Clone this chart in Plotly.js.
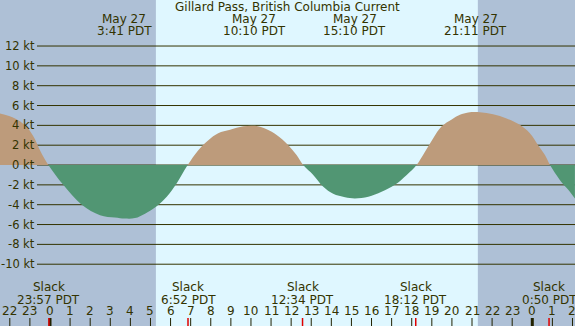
<!DOCTYPE html>
<html>
<head>
<meta charset="utf-8">
<script src="https://cdn.plot.ly/plotly-3.0.1.min.js"></script>
<style>html,body{margin:0;padding:0;background:#aec0d6;}#chart{width:575px;height:326px;}</style>
</head>
<body>
<div id="chart"></div>
<script>
// Hours relative to midnight, May 27 (PDT)
const times = [-2.49,-1.74,-1.24,-0.83,-0.50,-0.08,0.66,1.58,2.49,3.23,3.73,4.23,4.73,5.31,5.81,6.30,6.85,7.38,7.88,8.37,8.96,9.62,10.20,10.78,11.28,11.86,12.27,12.60,13.10,13.60,14.09,14.68,15.17,15.84,16.50,17.16,17.75,18.24,18.66,19.07,19.49,19.99,20.40,20.81,21.39,22.05,22.72,23.38,23.88,24.29,24.63,24.88,25.37,25.79,26.12];
const knots = [5.2,4.7,4.0,2.9,1.5,0,-2.0,-4.0,-5.06,-5.3,-5.4,-5.35,-4.9,-4.15,-3.2,-1.85,0,1.5,2.5,3.2,3.55,3.9,3.95,3.6,3.04,2.0,1.0,0,-1.0,-2.2,-2.9,-3.25,-3.37,-3.2,-2.7,-2.0,-1.0,0,1.35,2.7,3.9,4.6,5.06,5.3,5.33,5.13,4.7,4.05,3.2,2.0,1.0,0,-1.5,-2.5,-3.37];

const extremeTimes = [3.683, 10.167, 15.167, 21.183];
const extremeDates = ["May 27","May 27","May 27","May 27"];
const extremeLabels = ["3:41 PDT","10:10 PDT","15:10 PDT","21:11 PDT"];

const slackTimes = [-0.05, 6.867, 12.567, 18.2, 24.833];
const slackLabels = ["23:57 PDT","6:52 PDT","12:34 PDT","18:12 PDT","0:50 PDT"];

const hourTicks = [-2,-1,0,1,2,3,4,5,6,7,8,9,10,11,12,13,14,15,16,17,18,19,20,21,22,23,24,25,26];
const hourLabels = ["22","23","0","1","2","3","4","5","6","7","8","9","10","11","12","13","14","15","16","17","18","19","20","21","22","23","0","1","2"];

const ktTicks = [12,10,8,6,4,2,0,-2,-4,-6,-8,-10];
const ktLabels = ["12 kt","10 kt","8 kt","6 kt","4 kt","2 kt","0 kt","-2 kt","-4 kt","-6 kt","-8 kt","-10 kt"];

const daylight = [5.27, 21.29]; // sunrise, sunset
const titleText = "Gillard Pass, British Columbia Current";

const W = 575, H = 326;
const py = p => 1 - p / H;
const px = p => p / W;
const txt = '#333300';
const font = {family: 'DejaVu Sans', size: 12, color: txt};
const ktFont = {family: 'DejaVu Sans', size: 11.5, color: txt};

const yTop = 16.64, yBot = -16.23;
const zeroFrac = -yBot / (yTop - yBot);

const traces = [
  {x: times, y: knots, xaxis: 'x', yaxis: 'y2', type: 'scatter', mode: 'lines', fill: 'tozeroy', fillcolor: '#bd9b7b',
   line: {width: 0, shape: 'spline', smoothing: 1, color: 'rgba(0,0,0,0)'}, hoverinfo: 'skip'},
  {x: times, y: knots, xaxis: 'x', yaxis: 'y3', type: 'scatter', mode: 'lines', fill: 'tozeroy', fillcolor: '#519673',
   line: {width: 0, shape: 'spline', smoothing: 1, color: 'rgba(0,0,0,0)'}, hoverinfo: 'skip'}
];

const shapes = [];
shapes.push({type: 'rect', layer: 'below', xref: 'x', yref: 'paper', x0: daylight[0], x1: daylight[1], y0: 0, y1: 1,
  fillcolor: '#dff7ff', line: {width: 0}});
ktTicks.forEach(k => shapes.push({type: 'line', layer: 'below', xref: 'paper', yref: 'y', x0: px(37), x1: 1, y0: k, y1: k,
  line: {color: '#333300', width: 1}}));
hourTicks.forEach(h => shapes.push({type: 'line', layer: 'above', xref: 'x', yref: 'paper', x0: h, x1: h, y0: 0, y1: 8 / H,
  line: {color: '#222200', width: (((h % 24) + 24) % 24 === 0) ? 3 : 1}}));
slackTimes.forEach(t => shapes.push({type: 'line', layer: 'above', xref: 'x', yref: 'paper', x0: t, x1: t, y0: 0, y1: 8 / H,
  line: {color: '#e00000', width: 1.5}}));

const ann = [];
ann.push({text: titleText, xref: 'paper', yref: 'paper', x: px(287), y: py(7), showarrow: false, font: font, xanchor: 'center', yanchor: 'middle'});
extremeTimes.forEach((t, i) => {
  ann.push({text: extremeDates[i], xref: 'x', yref: 'paper', x: t, y: py(19), showarrow: false, font: font, xanchor: 'center', yanchor: 'middle'});
  ann.push({text: extremeLabels[i], xref: 'x', yref: 'paper', x: t, y: py(31), showarrow: false, font: font, xanchor: 'center', yanchor: 'middle'});
});
slackTimes.forEach((t, i) => {
  ann.push({text: 'Slack', xref: 'x', yref: 'paper', x: t, y: py(287), showarrow: false, font: font, xanchor: 'center', yanchor: 'middle'});
  ann.push({text: slackLabels[i], xref: 'x', yref: 'paper', x: t, y: py(300), showarrow: false, font: font, xanchor: 'center', yanchor: 'middle'});
});
hourTicks.forEach((h, i) => ann.push({text: hourLabels[i], xref: 'x', yref: 'paper', x: h, y: py(311), showarrow: false, font: font, xanchor: 'center', yanchor: 'middle'}));
ktTicks.forEach((k, i) => ann.push({text: ktLabels[i], xref: 'paper', yref: 'y', x: px(36), y: k, showarrow: false, font: ktFont, xanchor: 'right', yanchor: 'middle', borderpad: 0}));

const layout = {
  width: W, height: H,
  margin: {l: 0, r: 0, t: 0, b: 0, pad: 0},
  paper_bgcolor: '#aec0d6', plot_bgcolor: 'rgba(0,0,0,0)',
  showlegend: false,
  xaxis: {range: [-2.488, 26.125], visible: false, fixedrange: true},
  yaxis: {range: [yBot, yTop], domain: [0, 1], visible: false, fixedrange: true},
  yaxis2: {range: [0, yTop], domain: [zeroFrac, 1], anchor: 'x', visible: false, fixedrange: true},
  yaxis3: {range: [yBot, 0], domain: [0, zeroFrac], anchor: 'x', visible: false, fixedrange: true},
  shapes: shapes, annotations: ann
};
Plotly.newPlot('chart', traces, layout, {displayModeBar: false, staticPlot: true});
</script>
</body>
</html>
